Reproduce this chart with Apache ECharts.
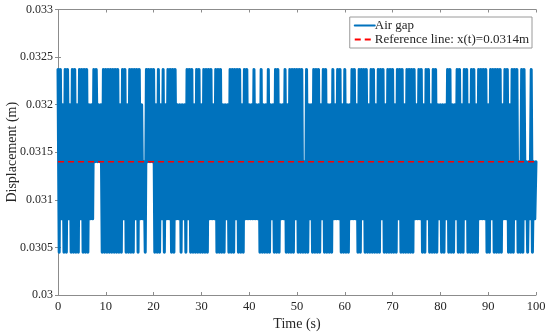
<!DOCTYPE html>
<html><head><meta charset="utf-8">
<script src="https://cdn.jsdelivr.net/npm/echarts@6/dist/echarts.min.js"></script>
<style>html,body{margin:0;padding:0;background:#fff}#c{width:550px;height:334px}</style>
</head><body><div id="c"></div>
<script>
// ---- data ----
const xTicks = [0, 10, 20, 30, 40, 50, 60, 70, 80, 90, 100];
const yTicks = [0.03, 0.0305, 0.031, 0.0315, 0.032, 0.0325, 0.033];
// displacement levels (m) the air-gap signal switches between
const levelValues = { e: 0.03237, d: 0.0320, c: 0.0314, b: 0.0308, a: 0.03045 };
// one character per 0.5 s slot: upper value of the slot, then lower value (0.25 s later)
const slotSeconds = 0.5;
const upperLevels = [
  "eedeedeedeeeeddeedde", // 0-10 s
  "eeeeeedeedeeeeedceee", // 10-20 s
  "edededeeeeddddeeedee", // 20-30 s
  "deeeedeeedddeeeeedee", // 30-40 s
  "ddeddeddeddeeddedeee", // 40-50 s
  "eeeceddeeedeeddedeed", // 50-60 s
  "eddeedeeeedeedeeedee", // 60-70 s
  "edeeedeeeedeedeedeed", // 70-80 s
  "dddeeddeedeedeedeeee", // 80-90 s
  "deeeeedeedeeeceeccec"  // 90-100 s
];
const lowerLevels = [
  "abaabaaaabaaabbcccaa",
  "aaaaaaabaaaababbaccc",
  "aaababbaabbababaaaaa",
  "aaabbbaaaabaaabaaabb",
  "bbbbaaaaabaaabbaaaab",
  "aaaaabaaaabaaaabbbaa",
  "aabbbaabaaaaaaabaaaa",
  "aabaaaaaabbbaabaaaab",
  "aabaaabaaabaaaaabbba",
  "abaaaabbaaabaaababab"
];
const finalLevel = "c";
const referenceValue = 0.0314;
const seriesNames = ["Air gap", "Reference line: x(t)=0.0314m"];

// ---- build series from the data ----
const airGap = [];
upperLevels.forEach((row, k) => {
  for (let i = 0; i < row.length; i++) {
    const t0 = k * 10 + i * slotSeconds;
    airGap.push([t0, levelValues[row[i]]]);
    airGap.push([t0 + slotSeconds / 2, levelValues[lowerLevels[k][i]]]);
  }
});
airGap.push([xTicks[xTicks.length - 1], levelValues[finalLevel]]);
const refLine = [[xTicks[0], referenceValue], [xTicks[xTicks.length - 1], referenceValue]];

const font = "'Liberation Serif', 'Times New Roman', serif";
const axisColor = '#8c8c8c';
const textColor = '#262626';

const chart = echarts.init(document.getElementById('c'), null, { renderer: 'canvas' });
const xBase = {
  type: 'value', min: xTicks[0], max: xTicks[xTicks.length - 1], interval: 10,
  splitLine: { show: false },
  axisLine: { show: true, lineStyle: { color: axisColor, width: 1 } },
  axisTick: { show: true, inside: true, length: 3, lineStyle: { color: axisColor } }
};
const yBase = {
  type: 'value', min: yTicks[0], max: yTicks[yTicks.length - 1], interval: 0.0005,
  splitLine: { show: false },
  axisLine: { show: true, lineStyle: { color: axisColor, width: 1 } },
  axisTick: { show: true, inside: true, length: 3, lineStyle: { color: axisColor } }
};
chart.setOption({
  animation: false,
  backgroundColor: '#ffffff',
  grid: { left: 58, right: 14, top: 9.5, bottom: 39, outerBoundsMode: 'none' },
  legend: {
    orient: 'vertical', right: 18, top: 17,
    itemWidth: 20, itemHeight: 10, itemGap: 1,
    padding: [2, 3, 2, 4],
    borderColor: '#9a9a9a', borderWidth: 1, backgroundColor: '#fff',
    itemStyle: { opacity: 0 },
    textStyle: { fontFamily: font, fontSize: 13, color: textColor, padding: [0, 0, 0, -5] },
    data: seriesNames
  },
  xAxis: [
    Object.assign({}, xBase, {
      position: 'bottom',
      axisLabel: { fontFamily: font, fontSize: 12.5, color: textColor, margin: 5 },
      name: 'Time (s)', nameLocation: 'middle', nameGap: 22, nameMoveOverlap: false,
      nameTextStyle: { fontFamily: font, fontSize: 14, color: textColor }
    }),
    Object.assign({}, xBase, { position: 'top', axisLabel: { show: false } })
  ],
  yAxis: [
    Object.assign({}, yBase, {
      position: 'left',
      axisLabel: { fontFamily: font, fontSize: 12, color: textColor, margin: 5,
        formatter: v => String(+v.toFixed(4)) },
      name: 'Displacement (m)', nameLocation: 'middle', nameGap: 39, nameMoveOverlap: false,
      nameTextStyle: { fontFamily: font, fontSize: 14, color: textColor }
    }),
    Object.assign({}, yBase, { position: 'right', axisLabel: { show: false } })
  ],
  series: [
    {
      name: seriesNames[0], type: 'line', data: airGap, xAxisIndex: 0, yAxisIndex: 0,
      showSymbol: false, symbol: 'none', z: 2,
      lineStyle: { color: '#0072BD', width: 3, join: 'round', cap: 'round' },
      itemStyle: { color: '#0072BD' }
    },
    {
      name: seriesNames[1], type: 'line', data: refLine, xAxisIndex: 0, yAxisIndex: 0,
      showSymbol: false, symbol: 'none', z: 3,
      lineStyle: { color: '#ff0000', width: 1.5, type: [6, 4] },
      itemStyle: { color: '#ff0000' }
    }
  ]
});
</script>
</body></html>
